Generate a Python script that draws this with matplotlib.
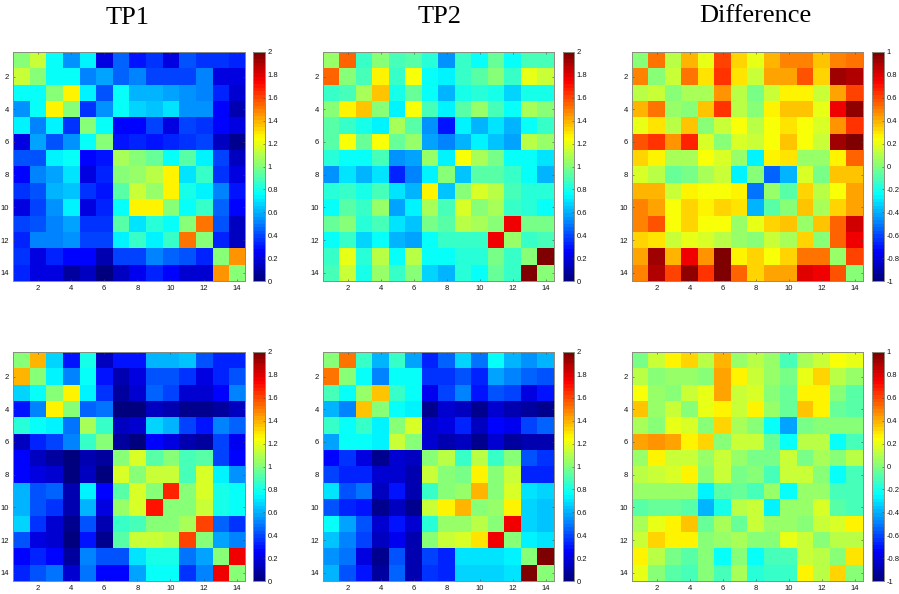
import matplotlib
matplotlib.use("Agg")
import matplotlib.pyplot as plt
from matplotlib.colors import LinearSegmentedColormap
import numpy as np

plt.rcParams['font.family'] = ['Liberation Sans', 'DejaVu Sans']

W, H = 899, 594

titles = ["TP1", "TP2", "Difference"]
tick_labels = [2, 4, 6, 8, 10, 12, 14]

tp1_top = [
 [1.0,1.15,.75,.55,.72,.2,.45,.3,.37,.2,.42,.37,.37,.32],
 [1.15,1.0,.75,.75,.5,.58,.45,.52,.4,.38,.4,.52,.2,.2],
 [.75,.75,1.0,1.27,.73,.42,.75,.6,.6,.57,.55,.52,.33,.18],
 [.55,.75,1.27,1.0,.35,.55,.78,.68,.65,.7,.55,.55,.27,.1],
 [.72,.5,.73,.35,1.0,.75,.27,.25,.38,.2,.38,.37,.27,.2],
 [.2,.58,.42,.55,.75,1.0,.3,.33,.3,.33,.35,.4,.13,.05],
 [.42,.42,.72,.77,.25,.3,1.08,1.0,.95,.77,.92,.72,.38,.13],
 [.27,.52,.58,.7,.2,.32,1.0,1.05,1.12,1.27,.7,.85,.35,.2],
 [.35,.42,.6,.65,.36,.3,.92,1.13,1.05,1.27,.8,.72,.5,.3],
 [.2,.4,.55,.72,.2,.33,.75,1.27,1.27,1.0,.75,.87,.45,.28],
 [.4,.42,.53,.57,.37,.37,.92,.7,.82,.75,1.02,1.52,.42,.15],
 [.33,.52,.52,.55,.38,.4,.72,.85,.73,.85,1.52,1.0,.32,.15],
 [.37,.2,.33,.27,.27,.12,.38,.38,.52,.45,.43,.33,1.0,1.45],
 [.33,.2,.2,.08,.15,.03,.13,.22,.33,.28,.18,.18,1.45,1.0],
]
tp2_top = [
 [1.05,1.55,.87,1.0,.9,.92,.83,.55,.85,.75,.95,.77,.9,.9],
 [1.55,1.02,.88,1.27,.87,1.22,.77,.72,.85,.92,1.02,.87,1.2,1.13],
 [.87,.88,1.07,1.35,.8,.95,.78,.6,.8,.83,.8,.67,.8,.8],
 [1.02,1.27,1.35,1.02,.73,1.22,.88,.72,.92,1.05,.9,.75,1.08,1.03],
 [.92,.87,.8,.73,1.07,.93,.55,.3,.72,.6,.7,.62,.77,.85],
 [.92,1.23,.95,1.22,.95,1.05,.58,.52,.6,.73,.65,.58,1.1,1.05],
 [.83,.77,.77,.88,.55,.58,1.05,.73,1.22,1.07,.98,.75,.75,.7],
 [.55,.7,.6,.7,.32,.52,.72,1.03,.65,.92,.92,.87,.77,.62],
 [.82,.85,.8,.9,.7,.62,1.25,.65,1.02,1.17,1.1,.88,.83,.83],
 [.75,.93,.85,1.05,.58,.73,1.08,.9,1.17,1.03,1.08,.87,.83,.77],
 [.95,1.03,.82,.9,.7,.65,.97,.92,1.1,1.08,1.03,1.78,.98,.97],
 [.77,.87,.68,.75,.62,.58,.75,.87,.87,.87,1.78,1.05,.87,.9],
 [.87,1.2,.82,1.1,.77,1.1,.75,.75,.82,.82,.98,.87,1.02,2.0],
 [.9,1.13,.8,1.05,.87,1.02,.68,.6,.82,.77,.95,.87,2.0,1.03],
]
diff_top = [
 [.02,.5,.12,.4,.2,.6,.33,.2,.4,.47,.47,.35,.47,.5],
 [.47,.02,.13,.5,.3,.65,.3,.13,.42,.43,.57,.33,.92,.88],
 [.1,.13,.03,.07,.07,.45,.1,-.03,.15,.25,.25,.13,.43,.6],
 [.38,.5,.05,.03,.37,.65,.1,0,.28,.35,.36,.2,.75,.95],
 [.2,.3,.1,.35,.02,.15,.23,.1,.23,.3,.23,.18,.45,.65],
 [.58,.65,.45,.67,.17,.03,.17,.13,.22,.35,.23,.13,.93,1.0],
 [.33,.28,.08,.08,.23,.17,.05,-.27,.28,.3,.05,.05,.27,.55],
 [.18,.1,-.05,-.03,.08,.13,-.27,.03,-.55,-.4,.18,-.02,.37,.35],
 [.4,.4,.13,.27,.23,.22,.27,-.52,.05,-.08,.33,.12,.23,.43],
 [.47,.43,.23,.33,.28,.33,.3,-.4,-.07,.03,.35,.07,.32,.42],
 [.47,.57,.23,.33,.23,.23,.05,.2,.32,.35,.05,.35,.55,.83],
 [.33,.3,.13,.2,.18,.1,.05,.02,.13,.07,.33,.03,.55,.78],
 [.43,.92,.38,.78,.45,.97,.28,.33,.23,.32,.5,.5,.04,.62],
 [.47,.9,.6,.95,.65,1.0,.55,.33,.43,.43,.8,.75,.57,.03],
]
tp1_bottom = [
 [1.0,1.38,.68,.3,.8,.15,.3,.3,.62,.62,.65,.42,.32,.32],
 [1.38,1.03,.72,.52,.78,.3,.12,.2,.42,.42,.37,.2,.33,.43],
 [.68,.75,1.03,1.25,.73,.35,.08,.18,.45,.38,.18,.18,.25,.5],
 [.3,.52,1.25,1.02,.45,.47,.03,.03,.13,.1,.05,.05,.08,.15],
 [.82,.75,.72,.47,1.07,.85,.13,.18,.68,.6,.38,.3,.5,.45],
 [.13,.32,.38,.5,.87,1.03,.08,.03,.25,.2,.12,.07,.38,.23],
 [.27,.13,.07,.02,.12,.07,1.03,1.17,.93,1.03,.88,.93,.38,.25],
 [.27,.2,.17,.03,.15,.03,1.17,1.03,1.15,1.15,.9,1.17,.73,.55],
 [.6,.42,.45,.12,.72,.27,.92,1.17,1.0,1.68,1.0,1.17,.8,.77],
 [.6,.42,.35,.1,.62,.2,1.05,1.17,1.7,1.03,1.0,1.13,.8,.77],
 [.68,.35,.18,.04,.42,.12,.85,.9,1.03,1.03,1.07,1.62,.45,.35],
 [.43,.2,.17,.03,.3,.05,.92,1.15,1.15,1.12,1.6,1.03,.58,.5],
 [.28,.33,.25,.08,.5,.43,.42,.7,.8,.8,.47,.58,1.03,1.75],
 [.32,.42,.47,.17,.47,.25,.27,.57,.75,.75,.35,.52,1.78,1.03],
]
tp2_bottom = [
 [1.03,1.5,.87,.6,.87,.57,.33,.45,.68,.47,.75,.62,.55,.6],
 [1.5,1.02,.75,.5,.77,.77,.37,.37,.42,.33,.58,.5,.45,.42],
 [.88,.75,1.05,1.37,.87,.78,.22,.38,.5,.3,.42,.4,.2,.3],
 [.62,.5,1.37,1.02,.75,.73,.05,.18,.15,.06,.18,.12,.07,.06],
 [.87,.75,.87,.72,1.03,1.17,.18,.2,.33,.13,.28,.22,.38,.45],
 [.58,.75,.77,.72,1.15,1.03,.17,.1,.13,.04,.18,.08,.1,.1],
 [.28,.35,.2,.05,.18,.15,1.03,1.1,.87,1.12,.85,1.0,.42,.37],
 [.38,.33,.33,.17,.17,.1,1.13,1.03,.97,1.27,1.03,1.13,.33,.33],
 [.7,.42,.47,.13,.3,.1,.85,1.0,1.05,1.38,1.02,1.17,.7,.68],
 [.42,.32,.3,.05,.15,.05,1.13,1.27,1.38,1.02,1.05,1.28,.68,.65],
 [.75,.58,.42,.18,.3,.17,.82,1.05,1.05,1.1,1.03,1.75,.68,.65],
 [.65,.5,.4,.13,.22,.1,1.0,1.13,1.18,1.3,1.75,1.03,.73,.7],
 [.55,.47,.2,.05,.42,.1,.4,.33,.7,.7,.7,.73,1.02,2.0],
 [.62,.42,.3,.07,.45,.1,.37,.33,.68,.68,.68,.7,2.0,1.03],
]
diff_bottom = [
 [-.03,.13,.25,.32,.12,.38,.05,.12,.05,-.1,.08,.15,.23,.2],
 [.12,.02,.06,.04,.03,.43,.25,.13,.05,-.03,.2,.33,.12,.04],
 [.23,.05,.03,.15,.2,.43,.15,.17,.03,-.05,.27,.25,.0,-.07],
 [.35,.04,.13,.03,.2,.25,.13,.28,.04,-.05,.37,.25,-.05,-.08],
 [.08,.03,.2,.18,.03,.32,.07,.03,-.25,-.42,-.03,.03,0,.03],
 [.42,.45,.42,.25,.33,.03,.15,.15,-.05,-.22,.1,.1,-.25,-.1],
 [.05,.25,.13,.13,.05,.13,.05,-.02,-.03,.13,-.03,.07,.02,.1],
 [.1,.13,.18,.27,.03,.13,-.03,.03,-.1,.13,.13,0,-.25,-.12],
 [.05,.05,.05,.05,-.27,-.07,-.05,-.1,.05,-.25,.05,.05,-.1,-.1],
 [-.08,-.05,-.05,-.08,-.4,-.2,.12,.15,-.27,.05,.05,.18,-.08,-.1],
 [.07,.2,.28,.37,-.04,.09,-.05,.15,.04,.04,.03,.15,.17,.25],
 [.13,.33,.25,.25,.02,.05,.07,.03,.03,.2,.15,.02,.1,.12],
 [.25,.1,-.02,-.07,0,-.25,.03,-.25,-.1,-.1,.13,.1,.02,.3],
 [.2,.03,-.08,-.1,.02,-.12,.09,-.18,-.15,-.15,.25,.12,.33,.03],
]

panels = [
    [(tp1_top, 13, 245, 253, 265, 0, 2), (tp2_top, 323, 554, 563, 574, 0, 2), (diff_top, 632, 863, 872, 884, -1, 1)],
    [(tp1_bottom, 13, 245, 253, 265, 0, 2), (tp2_bottom, 323, 554, 563, 574, 0, 2), (diff_bottom, 632, 863, 872, 884, -1, 1)],
]
rows_y = [(52, 281), (352, 581)]
edge = '#8c8c80'

# MATLAB's jet: blue at 1/8, cyan at 3/8, yellow at 5/8, red at 7/8
matlab_jet = LinearSegmentedColormap.from_list('matlab_jet', [
    (0.0, (0, 0, .5)), (1 / 8, (0, 0, 1)), (3 / 8, (0, 1, 1)),
    (5 / 8, (1, 1, 0)), (7 / 8, (1, 0, 0)), (1.0, (.5, 0, 0))], N=64)

def rect(x0, x1, y0, y1):
    return [x0 / W, 1 - y1 / H, (x1 - x0) / W, (y1 - y0) / H]

def style(ax):
    for s in ax.spines.values():
        s.set_color(edge)
        s.set_linewidth(0.7)
    ax.tick_params(labelsize=5.5, length=1.5, width=0.4, direction='in', color='#444444', pad=3, labelcolor='#111111')

fig = plt.figure(figsize=(W / 100, H / 100), dpi=100)
for row, (y0, y1) in zip(panels, rows_y):
    for data, x0, x1, cx0, cx1, vmin, vmax in row:
        ax = fig.add_axes(rect(x0, x1, y0, y1))
        im = ax.imshow(np.array(data), cmap=matlab_jet, vmin=vmin, vmax=vmax, aspect='auto',
                       interpolation='nearest',
                       extent=(0.5, len(data) + 0.5, len(data) + 0.5, 0.5))
        ax.set_xticks(tick_labels)
        ax.set_yticks(tick_labels)
        style(ax)
        ax.tick_params(top=True, right=True)
        cax = fig.add_axes(rect(cx0, cx1, y0, y1))
        cb = fig.colorbar(im, cax=cax)
        if vmin == 0:
            ticks = [0, .2, .4, .6, .8, 1, 1.2, 1.4, 1.6, 1.8, 2]
            labels = ['0', '0.2', '0.4', '0.6', '0.8', '1', '1.2', '1.4', '1.6', '1.8', '2']
        else:
            ticks = [-1, -.8, -.6, -.4, -.2, 0, .2, .4, .6, .8, 1]
            labels = ['-1', '-0.8', '-0.6', '-0.4', '-0.2', '0', '0.2', '0.4', '0.6', '0.8', '1']
        cb.set_ticks(ticks, labels=labels)
        cb.outline.set_edgecolor(edge)
        cb.outline.set_linewidth(0.7)
        cax.tick_params(labelsize=5.5, length=1.5, width=0.4, direction='in', color='#444444', pad=2, labelcolor='#111111')

for t, xc, base in zip(titles, [128, 440, 755], [24, 23, 22]):
    fig.text(xc / W, 1 - base / H, t, family=['Liberation Serif', 'DejaVu Serif'], fontsize=19,
             ha='center', va='baseline', color='black')

fig.savefig('out.png', dpi=100)
